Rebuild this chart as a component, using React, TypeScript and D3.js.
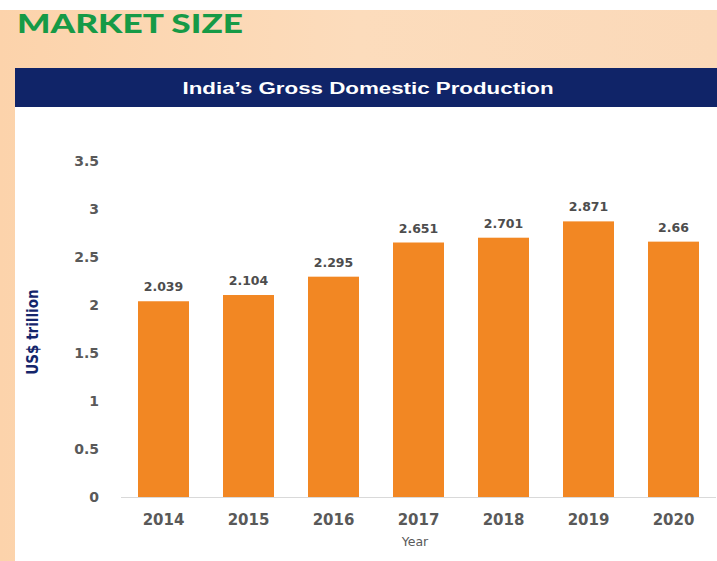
import React, { useEffect, useRef } from "react";
import * as d3 from "d3";

const years = ["2014", "2015", "2016", "2017", "2018", "2019", "2020"];
const gdp = [2.039, 2.104, 2.295, 2.651, 2.701, 2.871, 2.66];
const yTicks = [0, 0.5, 1, 1.5, 2, 2.5, 3, 3.5];

export default function App() {
  const ref = useRef<SVGSVGElement>(null);

  useEffect(() => {
    const svg = d3.select(ref.current);
    svg.selectAll("*").remove();
    const width = 717;
    const height = 561;

    // page background: peach banner + left strip
    const defs = svg.append("defs");
    const grad = defs
      .append("linearGradient")
      .attr("id", "peach")
      .attr("x1", 0)
      .attr("x2", 1);
    grad.append("stop").attr("offset", "0").attr("stop-color", "#fcd3ab");
    grad.append("stop").attr("offset", "0.5").attr("stop-color", "#fcdcbc");
    grad.append("stop").attr("offset", "1").attr("stop-color", "#fbd9b9");

    svg.append("rect").attr("width", width).attr("height", height).attr("fill", "#fff");
    svg
      .append("rect")
      .attr("x", 0)
      .attr("y", 10)
      .attr("width", width)
      .attr("height", height - 10)
      .attr("fill", "url(#peach)");
    svg
      .append("rect")
      .attr("x", 15)
      .attr("y", 107)
      .attr("width", width - 15)
      .attr("height", height - 107)
      .attr("fill", "#fff");

    svg
      .append("text")
      .attr("x", 17)
      .attr("y", 33)
      .attr("fill", "#169a46")
      .style("font-family", "Lato, 'Open Sans', sans-serif")
      .style("font-weight", 900)
      .style("font-size", "26px")
      .attr("textLength", 226)
      .attr("lengthAdjust", "spacingAndGlyphs")
      .text("MARKET SIZE");

    svg
      .append("rect")
      .attr("x", 15)
      .attr("y", 68)
      .attr("width", width - 15)
      .attr("height", 39)
      .attr("fill", "#102468");
    svg
      .append("text")
      .attr("x", 368)
      .attr("y", 94)
      .attr("text-anchor", "middle")
      .attr("fill", "#fff")
      .style("font-family", "'Liberation Sans', Arial, sans-serif")
      .style("font-weight", 700)
      .style("font-size", "16px")
      .attr("textLength", 371)
      .attr("lengthAdjust", "spacingAndGlyphs")
      .text("India\u2019s Gross Domestic Production");

    const margin = { left: 121, right: 1, top: 161, bottom: 64 };
    const x = d3
      .scaleBand()
      .domain(years)
      .range([margin.left, width - margin.right])
      .paddingInner(0.4)
      .paddingOuter(0.2);
    const y = d3.scaleLinear().domain([0, 3.5]).range([height - margin.bottom, margin.top]);

    const g = svg.append("g").style("font-family", "'DejaVu Sans', Verdana, sans-serif");

    g.selectAll("rect.bar")
      .data(gdp)
      .enter()
      .append("rect")
      .attr("class", "bar")
      .attr("x", (d, i) => x(years[i])!)
      .attr("y", (d) => y(d))
      .attr("width", x.bandwidth())
      .attr("height", (d) => y(0) - y(d))
      .attr("fill", "#f28723");

    g.append("line")
      .attr("x1", margin.left)
      .attr("x2", width - margin.right)
      .attr("y1", y(0) + 0.5)
      .attr("y2", y(0) + 0.5)
      .attr("stroke", "#d9d9d9");

    g.selectAll("text.val")
      .data(gdp)
      .enter()
      .append("text")
      .attr("class", "val")
      .attr("x", (d, i) => x(years[i])! + x.bandwidth() / 2)
      .attr("y", (d) => y(d) - 10)
      .attr("text-anchor", "middle")
      .attr("fill", "#4d4d4d")
      .style("font-size", "12.5px")
      .style("font-weight", 700)
      .text((d) => String(d));

    g.selectAll("text.ytick")
      .data(yTicks)
      .enter()
      .append("text")
      .attr("class", "ytick")
      .attr("x", 99)
      .attr("y", (d) => y(d) + 5)
      .attr("text-anchor", "end")
      .attr("fill", "#595959")
      .style("font-size", "14px")
      .style("font-weight", 700)
      .text((d) => String(d));

    g.selectAll("text.xtick")
      .data(years)
      .enter()
      .append("text")
      .attr("class", "xtick")
      .attr("x", (d) => x(d)! + x.bandwidth() / 2)
      .attr("y", 525)
      .attr("text-anchor", "middle")
      .attr("fill", "#595959")
      .style("font-size", "15px")
      .style("font-weight", 700)
      .text((d) => d);

    g.append("text")
      .attr("x", 415)
      .attr("y", 546)
      .attr("text-anchor", "middle")
      .attr("fill", "#595959")
      .style("font-size", "12.5px")
      .text("Year");

    g.append("text")
      .attr("transform", "translate(38,332) rotate(-90)")
      .attr("text-anchor", "middle")
      .attr("fill", "#14256b")
      .style("font-family", "'Liberation Sans Narrow', 'DejaVu Sans Condensed', sans-serif")
      .style("font-size", "15px")
      .style("font-weight", 700)
      .text("US$ trillion");
  }, []);

  return (
    <svg
      ref={ref}
      width={717}
      height={561}
      style={{ position: "absolute", left: 0, top: 0, display: "block" }}
    />
  );
}
